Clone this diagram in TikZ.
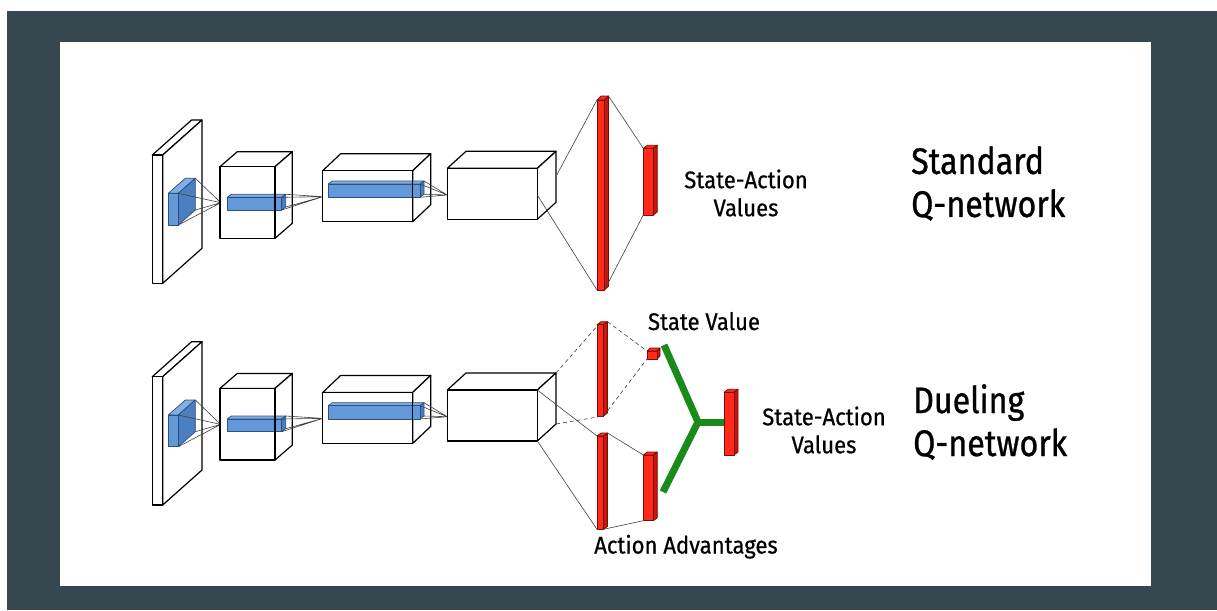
\documentclass[tikz,border=0pt]{standalone}
\usepackage{fontspec}
\newfontfamily\oswsmall[FakeStretch=0.92,FakeBold=0.6]{Fira Sans}
\newfontfamily\oswbig[FakeStretch=0.87,FakeBold=0.8]{Fira Sans}
\definecolor{slate}{HTML}{37474F}
\definecolor{bluefront}{HTML}{6399D8}
\definecolor{blueside}{HTML}{4C7FC0}
\definecolor{bluetop}{HTML}{82AEE2}
\definecolor{blueline}{HTML}{2B4F80}
\definecolor{redfront}{HTML}{FF2A1A}
\definecolor{redside}{HTML}{C4180E}
\definecolor{redline}{HTML}{7A0A05}
\definecolor{qgreen}{HTML}{1A8A1A}
\tikzset{
  whitetop/.style={fill=white,draw=black,line width=1.2pt,line join=round},
  whiteside/.style={fill=white,draw=black,line width=1.2pt,line join=round},
  whitefront/.style={fill=white,draw=black,line width=1.2pt,line join=round},
  bluetop/.style={fill=bluetop,draw=blueline,line width=0.7pt,line join=round},
  blueside/.style={fill=blueside,draw=blueline,line width=0.7pt,line join=round},
  bluefront/.style={fill=bluefront,draw=blueline,line width=0.7pt,line join=round},
  redtop/.style={fill=redfront,draw=redline,line width=0.7pt,line join=round},
  redside/.style={fill=redside,draw=redline,line width=0.7pt,line join=round},
  redfront/.style={fill=redfront,draw=redline,line width=0.7pt,line join=round},
  conn/.style={draw=black!75,line width=0.6pt},
  dconn/.style={conn,dash pattern=on 4pt off 3pt},
  edge/.style={draw=black,line width=1.2pt},
  garm/.style={draw=qgreen,line width=7pt},
  lbl/.style={font=\oswsmall\fontsize{24}{28}\selectfont,inner sep=0pt,align=center,text=black},
  big/.style={font=\oswbig\fontsize{37}{43}\selectfont,inner sep=0pt,align=left,text=black}
}
% name, x1, y1, x2, y2, dx, dy, colour prefix
\newcommand\prism[8]{%
  \coordinate (#1-ftl) at (#2,#3);
  \coordinate (#1-ftr) at (#4,#3);
  \coordinate (#1-fbl) at (#2,#5);
  \coordinate (#1-fbr) at (#4,#5);
  \coordinate (#1-btl) at ({#2+(#6)},{#3+(#7)});
  \coordinate (#1-btr) at ({#4+(#6)},{#3+(#7)});
  \coordinate (#1-bbr) at ({#4+(#6)},{#5+(#7)});
  \filldraw[#8top] (#1-ftl) -- (#1-btl) -- (#1-btr) -- (#1-ftr) -- cycle;
  \filldraw[#8side] (#1-ftr) -- (#1-btr) -- (#1-bbr) -- (#1-fbr) -- cycle;
  \filldraw[#8front] (#1-ftl) rectangle (#1-fbr);
}
% common convolutional trunk: prefix, y offset
\newcommand\trunk[2]{%
  \prism{#1p}{152.3}{155+#2}{162.7}{283.3+#2}{39.3}{-35}{white}
  \prism{#1b1}{168.3}{193.3+#2}{178.3}{225+#2}{17}{-15}{blue}
  \coordinate (#1j2) at (220.7,202.7+#2);
  \draw[conn] (#1b1-btr) -- (#1j2) (#1b1-bbr) -- (#1j2) (#1b1-fbr) -- (#1j2) (#1b1-ftr) -- (#1j2);
  \prism{#1c2}{220}{166.7+#2}{275}{238.3+#2}{17.3}{-15}{white}
  \prism{#1b2}{227.3}{197.3+#2}{281.7}{210+#2}{4}{-3}{blue}
  \draw[edge] (#1c2-ftr) -- (#1c2-fbr);
  \coordinate (#1j3) at (322.7,196.7+#2);
  \draw[conn] (#1b2-btr) -- (#1j3) (#1b2-bbr) -- (#1j3) (#1b2-fbr) -- (#1j3) (#1b2-ftr) -- (#1j3);
  \prism{#1c3}{322.7}{170.7+#2}{412.7}{221.7+#2}{18}{-17}{white}
  \prism{#1b3}{328.3}{184+#2}{420}{197.3+#2}{4}{-3}{blue}
  \draw[edge] (#1c3-ftr) -- (#1c3-fbr);
  \coordinate (#1j4) at (447.3,195+#2);
  \draw[conn] (#1b3-btr) -- (#1j4) (#1b3-bbr) -- (#1j4) (#1b3-fbr) -- (#1j4) (#1b3-ftr) -- (#1j4);
  \prism{#1c4}{447.3}{168.3+#2}{537.3}{219.3+#2}{18.7}{-17}{white}
}
\begin{document}
\begin{tikzpicture}[x=1pt,y=-1pt]
\useasboundingbox (0,0) rectangle (1217,610);
\fill[white] (0,0) rectangle (1217,610);
\fill[slate] (7,11) rectangle (1217,610);
\fill[white] (60,42) rectangle (1151,586);

% ---------------- Standard Q-network ----------------
\trunk{t}{0}
\prism{tfc}{597}{100}{604.5}{290}{4}{-4}{red}
\coordinate (tc4a) at (556.7,175);
\coordinate (tc4b) at (537.3,195);
\draw[conn] (tc4a) -- (tfc-ftl) (tc4b) -- (tfc-fbl);
\prism{tq}{643.3}{148.3}{653.3}{215}{4}{-3}{red}
\draw[conn] (tfc-btr) -- (tq-ftl) (tfc-fbr) -- (tq-fbl);
\node[lbl] (tqlbl) at (746,193) {State-Action\\Values};
\node[big,anchor=north west] (ttitle) at (911,146) {Standard\\Q-network};

% ---------------- Dueling Q-network ----------------
\trunk{d}{221.7}
\prism{dv1}{597}{324.7}{603.5}{416}{4}{-3}{red}
\prism{da1}{597}{436}{603.5}{529.3}{4}{-3}{red}
\draw[dconn] (dc4-btr) -- (dv1-btl) (dc4-bbr) -- (dv1-fbr);
\draw[conn] (dc4-ftr) -- (da1-ftl) (dc4-fbr) -- (da1-fbl);
\prism{dv2}{647}{351}{657}{359}{3}{-3}{red}
\prism{da2}{643.3}{455}{653.3}{520.7}{4}{-3}{red}
\draw[dconn] (dv1-btr) -- (dv2-ftl) (dv1-fbr) -- (dv2-fbl);
\draw[conn] (da1-btr) -- (da2-ftl) (da1-fbr) -- (da2-fbl);
\coordinate (gv) at (664,345);
\coordinate (ga) at (663,492);
\coordinate (gj) at (698,422);
\coordinate (go) at (726,422);
\draw[garm,line cap=butt] (gv) -- (gj) -- (ga);
\draw[garm] (gj) -- (go);
\prism{dq}{724}{392.3}{734}{455}{4}{-3}{red}
\node[lbl,anchor=base] (svlbl) at (704,330) {State Value};
\node[lbl,anchor=base] (aalbl) at (686,553.5) {Action Advantages};
\node[lbl] (dqlbl) at (824,430) {State-Action\\Values};
\node[big,anchor=north west] (dtitle) at (913,384) {Dueling\\Q-network};
\end{tikzpicture}
\end{document}
